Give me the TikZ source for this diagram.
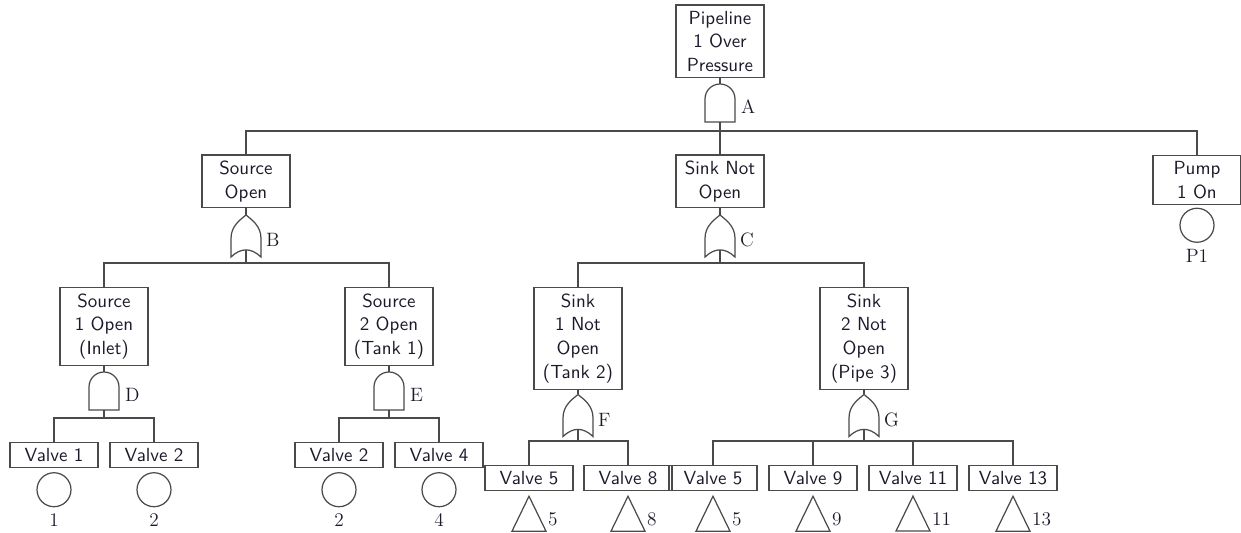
\documentclass[tikz,border=0pt]{standalone}
\usepackage{tikz}
\usetikzlibrary{shapes.geometric, positioning, calc}
\definecolor{ftline}{HTML}{4A4A4A}
\definecolor{fttext}{HTML}{1A1A2A}

\tikzset{
  pics/andgate/.style={code={
    \draw[ftline, line width=0.7pt] (-0.3,-0.38) -- (-0.3,0.08) arc[start angle=180, end angle=0, radius=0.3] -- (0.3,-0.38) -- cycle;
    \coordinate (-top) at (0,0.38);
    \coordinate (-bot) at (0,-0.38);
    \node[gatelbl] (-lbl) at (0.38,-0.08) {#1};
  }},
  pics/orgate/.style={code={
    \draw[ftline, line width=0.7pt] (-0.3,-0.42) -- (-0.3,-0.05) .. controls (-0.3,0.2) and (-0.12,0.32) .. (0,0.42)
      .. controls (0.12,0.32) and (0.3,0.2) .. (0.3,-0.05) -- (0.3,-0.42) .. controls (0.1,-0.23) and (-0.1,-0.23) .. cycle;
    \coordinate (-top) at (0,0.42);
    \coordinate (-bot) at (0,-0.28);
    \node[gatelbl] (-lbl) at (0.36,-0.08) {#1};
  }},
  pics/xfer/.style={code={
    \draw[ftline, line width=0.7pt] (0,0) -- (-0.34,-0.7) -- (0.34,-0.7) -- cycle;
    \node[gatelbl] (-lbl) at (0.34,-0.46) {#1};
  }}
}

\begin{document}
\begin{tikzpicture}[
  event/.style={draw=ftline, line width=0.7pt, align=center, minimum width=1.76cm, inner xsep=2pt, inner ysep=3.3pt, text=fttext, font=\sffamily\fontsize{10.8}{13.6}\selectfont},
  basic/.style={draw=ftline, line width=0.7pt, circle, minimum size=0.68cm, inner sep=0pt},
  gatelbl/.style={anchor=west, inner sep=1pt, text=fttext, font=\rmfamily\fontsize{11}{13}\selectfont},
  every label/.style={text=fttext, font=\rmfamily\fontsize{11}{13}\selectfont},
  conn/.style={ftline, line width=0.7pt}
]
\useasboundingbox (0,0) rectangle (24.82,-10.66);

% top event and first level
\node[event] (pipe) at (14.4,-0.83) {Pipeline\\1 Over\\Pressure};
\pic (gA) at (14.4,-2.06) {andgate=A};
\node[event] (srco) at (4.92,-3.63) {Source\\Open};
\node[event] (snko) at (14.4,-3.63) {Sink Not\\Open};
\node[event] (pmp) at (23.94,-3.6) {Pump\\1 On};
\node[basic, below=0.05cm of pmp, label={below:P1}] (ep1) {};

% second level
\pic (gB) at (4.92,-4.72) {orgate=B};
\pic (gC) at (14.4,-4.72) {orgate=C};
\node[event, anchor=north] (src1) at (2.08,-5.74) {Source\\1 Open\\(Inlet)};
\node[event, anchor=north] (src2) at (7.78,-5.74) {Source\\2 Open\\(Tank 1)};
\node[event, anchor=north] (snk1) at (11.56,-5.74) {Sink\\1 Not\\Open\\(Tank 2)};
\node[event, anchor=north] (snk2) at (17.28,-5.74) {Sink\\2 Not\\Open\\(Pipe 3)};

% third level
\pic (gD) at (2.08,-7.82) {andgate=D};
\pic (gE) at (7.78,-7.82) {andgate=E};
\pic (gF) at (11.56,-8.31) {orgate=F};
\pic (gG) at (17.28,-8.31) {orgate=G};

\node[event] (v1) at (1.08,-9.1) {Valve 1};
\node[event] (v2) at (3.08,-9.1) {Valve 2};
\node[event] (v2b) at (6.78,-9.1) {Valve 2};
\node[event] (v4) at (8.78,-9.1) {Valve 4};
\node[basic, below=0.08cm of v1, label={below:1}] (e1) {};
\node[basic, below=0.08cm of v2, label={below:2}] (e2) {};
\node[basic, below=0.08cm of v2b, label={below:2}] (e2b) {};
\node[basic, below=0.08cm of v4, label={below:4}] (e4) {};

\node[event] (v5) at (10.58,-9.56) {Valve 5};
\node[event] (v8) at (12.56,-9.56) {Valve 8};
\node[event] (v5b) at (14.26,-9.56) {Valve 5};
\node[event] (v9) at (16.26,-9.56) {Valve 9};
\node[event] (v11) at (18.26,-9.56) {Valve 11};
\node[event] (v13) at (20.26,-9.56) {Valve 13};
\pic (t5) at ($(v5.south)+(0,-0.1)$) {xfer=5};
\pic (t8) at ($(v8.south)+(0,-0.1)$) {xfer=8};
\pic (t5b) at ($(v5b.south)+(0,-0.1)$) {xfer=5};
\pic (t9) at ($(v9.south)+(0,-0.1)$) {xfer=9};
\pic (t11) at ($(v11.south)+(0,-0.1)$) {xfer=11};
\pic (t13) at ($(v13.south)+(0,-0.1)$) {xfer=13};

% connectors
\draw[conn] (pipe) -- (gA-top);
\draw[conn] (gA-bot) -- ++(0,-0.18) coordinate (jA);
\draw[conn] (jA) -| (srco);
\draw[conn] (jA) -- (snko);
\draw[conn] (jA) -| (pmp);

\draw[conn] (srco) -- (gB-top);
\draw[conn] (gB-bot) -- ++(0,-0.26) coordinate (jB);
\draw[conn] (jB) -| (src1);
\draw[conn] (jB) -| (src2);
\draw[conn] (snko) -- (gC-top);
\draw[conn] (gC-bot) -- ++(0,-0.26) coordinate (jC);
\draw[conn] (jC) -| (snk1);
\draw[conn] (jC) -| (snk2);

\draw[conn] (src1) -- (gD-top);
\draw[conn] (gD-bot) -- ++(0,-0.16) coordinate (jD);
\draw[conn] (jD) -| (v1);
\draw[conn] (jD) -| (v2);
\draw[conn] (src2) -- (gE-top);
\draw[conn] (gE-bot) -- ++(0,-0.16) coordinate (jE);
\draw[conn] (jE) -| (v2b);
\draw[conn] (jE) -| (v4);

\draw[conn] (snk1) -- (gF-top);
\draw[conn] (gF-bot) -- ++(0,-0.23) coordinate (jF);
\draw[conn] (jF) -| (v5);
\draw[conn] (jF) -| (v8);
\draw[conn] (snk2) -- (gG-top);
\draw[conn] (gG-bot) -- ++(0,-0.23) coordinate (jG);
\draw[conn] (jG) -| (v5b);
\draw[conn] (jG) -| (v9);
\draw[conn] (jG) -| (v11);
\draw[conn] (jG) -| (v13);
\end{tikzpicture}
\end{document}
